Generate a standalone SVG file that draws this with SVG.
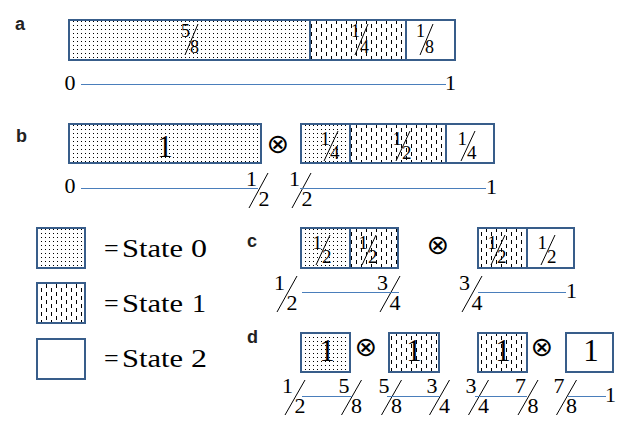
<svg xmlns="http://www.w3.org/2000/svg" width="621" height="421" viewBox="0 0 621 421">
<style>
.bx{stroke:#385D8A;stroke-width:2;}
.dv{stroke:#385D8A;stroke-width:2;}
.ax{stroke:#4A7EBB;stroke-width:1;}
.sl{stroke:#000;stroke-width:1;}
.t{font-family:"Liberation Serif","Times New Roman",serif;fill:#000;}
.f18{font-size:18px;}
.f19{font-size:19px;}
.f22{font-size:22px;}
.f26{font-size:26px;}
.f31{font-size:31px;}
.lab{font-family:"Liberation Sans",Arial,sans-serif;font-weight:bold;font-size:18px;fill:#222;}
.ot{font-family:"DejaVu Sans",sans-serif;font-size:27px;fill:#000;text-anchor:middle;}
.e{text-anchor:end;}
.m{text-anchor:middle;}
</style>
<defs>
<pattern id="dots" patternUnits="userSpaceOnUse" width="4" height="4">
<rect width="4" height="4" fill="#fff"/>
<rect x="1" y="1" width="1" height="1" fill="#000"/>
</pattern>
<pattern id="dash" patternUnits="userSpaceOnUse" width="10" height="8">
<rect width="10" height="8" fill="#fff"/>
<rect x="1" y="0" width="1" height="4" fill="#000"/>
<rect x="6" y="4" width="1" height="4" fill="#000"/>
</pattern>
</defs>
<rect width="621" height="421" fill="#fff"/>

<!-- Panel labels -->
<g id="labels">
<text class="lab" x="15" y="30">a</text>
<text class="lab" x="16" y="142">b</text>
<text class="lab" x="247" y="247">c</text>
<text class="lab" x="247" y="343">d</text>
</g>

<!-- Panel a bar -->
<g id="a-bar">
<rect x="69" y="20" width="241" height="40" fill="url(#dots)"/>
<rect x="310" y="20" width="96" height="40" fill="url(#dash)"/>
<rect x="406" y="20" width="49" height="40" fill="#fff"/>
<rect class="bx" x="69" y="20" width="386" height="40" fill="none"/>
<line class="dv" x1="310" y1="20" x2="310" y2="60"/>
<line class="dv" x1="406" y1="20" x2="406" y2="60"/>
<g class="t f18">
<text class="e" x="190" y="37">5</text><text x="190" y="53">8</text><line class="sl" x1="185" y1="55" x2="198" y2="24"/>
<text class="e" x="360" y="37">1</text><text x="360" y="53">4</text><line class="sl" x1="355" y1="55" x2="368" y2="24"/>
<text class="e" x="425" y="37">1</text><text x="425" y="53">8</text><line class="sl" x1="420" y1="55" x2="433" y2="24"/>
</g>
</g>
<g id="a-axis" class="t f22">
<text x="64.5" y="90">0</text>
<text x="445" y="90">1</text>
</g>

<!-- Panel b -->
<g id="b-bar1">
<rect x="69" y="124" width="192" height="39" fill="url(#dots)"/>
<rect class="bx" x="69" y="124" width="192" height="39" fill="none"/>
<text class="t f31 m" x="165" y="157">1</text>
</g>
<text id="b-otimes" class="ot" x="278" y="153">⊗</text>
<g id="b-bar2">
<rect x="301" y="124" width="49" height="39" fill="url(#dots)"/>
<rect x="350" y="124" width="96" height="39" fill="url(#dash)"/>
<rect x="446" y="124" width="48" height="39" fill="#fff"/>
<rect class="bx" x="301" y="124" width="193" height="39" fill="none"/>
<line class="dv" x1="350" y1="124" x2="350" y2="163"/>
<line class="dv" x1="446" y1="124" x2="446" y2="163"/>
<g class="t f19">
<text class="e" x="330" y="145">1</text><text x="330" y="159">4</text><line class="sl" x1="324" y1="161" x2="338" y2="131"/>
<text class="e" x="402" y="145">1</text><text x="402" y="159">2</text><line class="sl" x1="396" y1="161" x2="410" y2="131"/>
<text class="e" x="467" y="145">1</text><text x="467" y="159">4</text><line class="sl" x1="461" y1="161" x2="475" y2="131"/>
</g>
</g>
<g id="b-axis" class="t">
<text class="f22" x="64.5" y="193">0</text>
<g class="f22">
<text class="e" x="257" y="186">1</text><text x="258.5" y="206">2</text><line class="sl" x1="249" y1="208" x2="268" y2="173"/>
<text class="e" x="300" y="186">1</text><text x="301.5" y="206">2</text><line class="sl" x1="292" y1="208" x2="311" y2="173"/>
</g>
<text class="f22" x="486" y="194">1</text>
</g>

<!-- Legend -->
<g id="legend-state0">
<rect class="bx" x="37" y="228" width="48" height="40" fill="url(#dots)"/>
<g class="t f26"><text x="104" y="257">=</text><text x="122" y="257" textLength="61" lengthAdjust="spacingAndGlyphs">State</text><text x="191" y="257" textLength="16" lengthAdjust="spacingAndGlyphs">0</text></g>
</g>
<g id="legend-state1">
<rect class="bx" x="37" y="283" width="48" height="40" fill="url(#dash)"/>
<g class="t f26"><text x="104" y="312">=</text><text x="122" y="312" textLength="61" lengthAdjust="spacingAndGlyphs">State</text><text x="192" y="312" textLength="14" lengthAdjust="spacingAndGlyphs">1</text></g>
</g>
<g id="legend-state2">
<rect class="bx" x="37" y="339" width="48" height="40" fill="#fff"/>
<g class="t f26"><text x="104" y="367">=</text><text x="122" y="367" textLength="61" lengthAdjust="spacingAndGlyphs">State</text><text x="191" y="367" textLength="16" lengthAdjust="spacingAndGlyphs">2</text></g>
</g>

<!-- Panel c -->
<g id="c-bar1">
<rect x="301" y="228" width="49" height="40" fill="url(#dots)"/>
<rect x="350" y="228" width="48" height="40" fill="url(#dash)"/>
<rect class="bx" x="301" y="228" width="97" height="40" fill="none"/>
<line class="dv" x1="350" y1="228" x2="350" y2="268"/>
<g class="t f19">
<text class="e" x="322" y="249">1</text><text x="322" y="263">2</text><line class="sl" x1="316" y1="265" x2="330" y2="235"/>
<text class="e" x="368" y="249">1</text><text x="368" y="263">2</text><line class="sl" x1="362" y1="265" x2="376" y2="235"/>
</g>
</g>
<text id="c-otimes" class="ot" x="438" y="254">⊗</text>
<g id="c-bar2">
<rect x="478" y="228" width="49" height="40" fill="url(#dash)"/>
<rect x="527" y="228" width="47" height="40" fill="#fff"/>
<rect class="bx" x="478" y="228" width="96" height="40" fill="none"/>
<line class="dv" x1="527" y1="228" x2="527" y2="268"/>
<g class="t f19">
<text class="e" x="497" y="249">1</text><text x="497" y="263">2</text><line class="sl" x1="491" y1="265" x2="505" y2="235"/>
<text class="e" x="547" y="249">1</text><text x="547" y="263">2</text><line class="sl" x1="541" y1="265" x2="555" y2="235"/>
</g>
</g>
<g id="c-axis" class="t f22">
<text class="e" x="285" y="290">1</text><text x="286.5" y="310">2</text><line class="sl" x1="277" y1="312" x2="297" y2="276"/>
<text class="e" x="388" y="290">3</text><text x="389.5" y="310">4</text><line class="sl" x1="380" y1="312" x2="400" y2="276"/>
<text class="e" x="470" y="290">3</text><text x="471.5" y="310">4</text><line class="sl" x1="462" y1="312" x2="482" y2="276"/>
<text x="566" y="298">1</text>
</g>

<!-- Panel d -->
<g id="d-box1">
<rect class="bx" x="301" y="333" width="49" height="39" fill="url(#dots)"/>
<text class="t f31 m" x="327" y="361">1</text>
</g>
<text id="d-otimes1" class="ot" x="366" y="356">⊗</text>
<g id="d-box2">
<rect class="bx" x="389" y="333" width="50" height="39" fill="url(#dash)"/>
<text class="t f31 m" x="414" y="361">1</text>
</g>
<g id="d-box3">
<rect class="bx" x="478" y="333" width="49" height="39" fill="url(#dash)"/>
<text class="t f31 m" x="503" y="361">1</text>
</g>
<text id="d-otimes2" class="ot" x="542" y="356">⊗</text>
<g id="d-box4">
<rect class="bx" x="566" y="333" width="47" height="39" fill="#fff"/>
<text class="t f31 m" x="591" y="361">1</text>
</g>
<g id="d-axis" class="t f22">
<text class="e" x="293" y="393">1</text><text x="294.5" y="413">2</text><line class="sl" x1="285" y1="415" x2="305" y2="380"/>
<text class="e" x="349.5" y="393">5</text><text x="351" y="413">8</text><line class="sl" x1="341.5" y1="415" x2="361.5" y2="380"/>
<text class="e" x="389.5" y="393">5</text><text x="391" y="413">8</text><line class="sl" x1="381.5" y1="415" x2="401.5" y2="380"/>
<text class="e" x="437.5" y="393">3</text><text x="439" y="413">4</text><line class="sl" x1="429.5" y1="415" x2="449.5" y2="380"/>
<text class="e" x="476.5" y="393">3</text><text x="478" y="413">4</text><line class="sl" x1="468.5" y1="415" x2="488.5" y2="380"/>
<text class="e" x="526" y="393">7</text><text x="527.5" y="413">8</text><line class="sl" x1="518" y1="415" x2="538" y2="380"/>
<text class="e" x="564.5" y="393">7</text><text x="566" y="413">8</text><line class="sl" x1="556.5" y1="415" x2="576.5" y2="380"/>
<text x="605" y="402">1</text>
</g>

<!-- Connectors: axis lines -->
<g id="connectors">
<line class="ax" x1="81" y1="84.5" x2="446" y2="84.5"/>
<line class="ax" x1="81" y1="188.5" x2="258" y2="188.5"/>
<line class="ax" x1="300" y1="188.5" x2="486" y2="188.5"/>
<line class="ax" x1="302" y1="292.5" x2="399" y2="292.5"/>
<line class="ax" x1="478" y1="292.5" x2="566" y2="292.5"/>
<line class="ax" x1="302" y1="396.5" x2="352" y2="396.5"/>
<line class="ax" x1="387" y1="396.5" x2="440" y2="396.5"/>
<line class="ax" x1="475" y1="396.5" x2="527" y2="396.5"/>
<line class="ax" x1="568" y1="396.5" x2="606" y2="396.5"/>
</g>
</svg>
